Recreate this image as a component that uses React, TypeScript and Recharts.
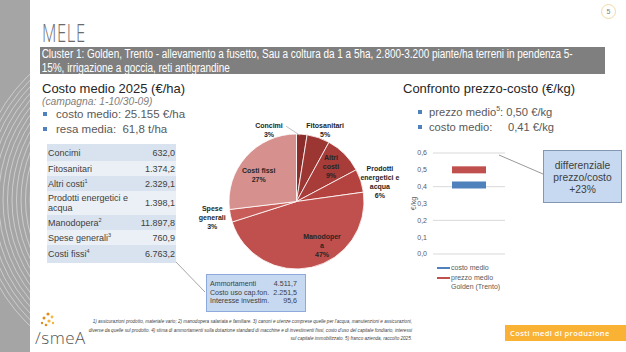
import React from "react";
import { PieChart, Pie, Cell, LineChart, Line, XAxis, YAxis, CartesianGrid } from "recharts";

// voci di costo (€/ha)
const categorie = ["Concimi", "Fitosanitari", "Altri costi", "Prodotti energetici e acqua", "Manodopera", "Spese generali", "Costi fissi"];
const richiami = ["", "", "1", "", "2", "3", "4"];
const costi = [632.0, 1374.2, 2329.1, 1398.1, 11897.8, 760.9, 6763.2];
const etichetteTorta = [["Concimi"], ["Fitosanitari"], ["Altri", "costi"], ["Prodotti", "energetici e", "acqua"], ["Manodoper", "a"], ["Spese", "generali"], ["Costi fissi"]];

// dettaglio costi fissi
const fissiVoci = ["Ammortamenti", "Costo uso cap.fon.", "Interesse investim."];
const fissiValori = [4511.7, 2251.5, 95.6];

// confronto prezzo-costo (€/kg)
const confrontoCat = ["Golden (Trento)"];
const costoMedio = [0.41];
const prezzoMedio = [0.5];
const yTicks = [0, 0.1, 0.2, 0.3, 0.4, 0.5, 0.6];

const coloriTorta = ["#8B2D2B", "#9C3633", "#A73C39", "#B4433F", "#C0504D", "#C85C59", "#D6908E"];
const altezzeRighe = [17, 15, 15, 24, 15, 15, 18];
// posizione etichette: spostamento angolare (gradi) e raggio relativo
const posEtichette = [
  { a: 25.5, r: 1.14, linea: true },
  { a: -3, r: 1.14 },
  { a: 1, r: 0.73 },
  { a: -4.6, r: 1.27 },
  { a: 17, r: 0.76 },
  { a: -1.5, r: 1.27 },
  { a: 7, r: 0.68 },
];

const SANS = '"Liberation Sans", Arial, sans-serif';
const RAD = Math.PI / 180;

const fmt = (v: number, d = 1) => {
  const [i, f] = v.toFixed(d).split(".");
  return i.replace(/\B(?=(\d{3})+(?!\d))/g, ".") + (f ? "," + f : "");
};

const datiTorta = categorie.map((c, i) => ({ name: c, value: costi[i] }));
const datiConfronto = confrontoCat.map((c, i) => ({ cat: c, costo: costoMedio[i], prezzo: prezzoMedio[i] }));

function EtichettaTorta(props: any) {
  const { cx, cy, midAngle, outerRadius, percent, index } = props;
  const p = posEtichette[index];
  const ang = (midAngle + p.a) * RAD;
  const x = cx + outerRadius * p.r * Math.cos(ang);
  const y = cy - outerRadius * p.r * Math.sin(ang);
  const righe = [...etichetteTorta[index], `${Math.round(percent * 100)}%`];
  const lh = 9;
  const y0 = y - ((righe.length - 1) * lh) / 2;
  const bx = cx + outerRadius * Math.cos(midAngle * RAD);
  const by = cy - outerRadius * Math.sin(midAngle * RAD);
  return (
    <g>
      {p.linea && <line x1={x + 17} y1={y0 + 1} x2={bx - 2} y2={by + 1} stroke="#A6A6A6" strokeWidth={0.7} />}
      <text x={x} textAnchor="middle" fontFamily={SANS} fontWeight="bold" fontSize={7} fill="#262626">
        {righe.map((r, i) => (
          <tspan key={i} x={x} y={y0 + i * lh} dy="0.35em">{r}</tspan>
        ))}
      </text>
    </g>
  );
}

function Trattino(colore: string) {
  return (props: any) => {
    const { cx, cy, index } = props;
    if (cx == null || cy == null) return <g key={index} />;
    return <rect key={`${colore}-${index}`} x={cx - 17} y={cy - 3.5} width={34} height={7} fill={colore} />;
  };
}

function EtichettaAsse(props: any) {
  const vb = props.viewBox;
  const x = vb.x + 15;
  const y = vb.y + vb.height / 2;
  return (
    <text x={x} y={y} transform={`rotate(-90 ${x} ${y})`} textAnchor="middle" dominantBaseline="central" fontSize={7} fontFamily={SANS} fill="#595959">
      €/kg
    </text>
  );
}

function Decoro() {
  const archi = [];
  for (let r = 120; r <= 175; r += 4.5) archi.push(r);
  return (
    <svg width={30} height={352} style={{ position: "absolute", left: 0, top: 0 }}>
      <rect x={0} y={0} width={30} height={352} fill="#A5A5A5" />
      {archi.map((r) => (
        <circle key={r} cx={150} cy={200} r={r} fill="none" stroke="#FFFFFF" strokeOpacity={0.55} strokeWidth={0.8} />
      ))}
    </svg>
  );
}

const abs = (left: number, top: number, extra: React.CSSProperties = {}): React.CSSProperties => ({ position: "absolute", left, top, ...extra });

const quadratino: React.CSSProperties = { display: "inline-block", width: 4, height: 4, background: "#4F81BD", verticalAlign: "middle", position: "relative", top: -1 };

export default function App() {
  return (
    <div style={{ position: "absolute", left: 0, top: 0, width: 626, height: 352, background: "#fff", overflow: "hidden", fontFamily: SANS }}>
      <Decoro />

      {/* numero pagina */}
      <div style={abs(601, 4, { width: 15, height: 15, borderRadius: "50%", border: "1px solid #F4D9A6", boxSizing: "border-box", fontSize: 7, color: "#7F7F7F", textAlign: "center", lineHeight: "13px" })}>5</div>

      {/* titolo */}
      <div style={abs(42, 19, { fontFamily: '"Open Sans", sans-serif', fontWeight: 300, fontSize: 26, lineHeight: "26px", color: "#6B6B6B", transform: "scaleX(0.64)", transformOrigin: "left", letterSpacing: 1 })}>MELE</div>

      <div style={abs(40, 47, { width: 565, height: 27, background: "#7F7F7F", overflow: "hidden" })}>
        <div style={{ width: 565 / 0.83, transform: "scaleX(0.83)", transformOrigin: "left top", color: "#fff", fontSize: 12, lineHeight: "14px", padding: "0 2px", whiteSpace: "nowrap" }}>
          Cluster 1: Golden, Trento - allevamento a fusetto, Sau a coltura da 1 a 5ha, 2.800-3.200 piante/ha terreni in pendenza 5-
          <br />
          15%, irrigazione a goccia, reti antigrandine
        </div>
      </div>

      {/* colonna sinistra */}
      <div style={abs(42, 81, { fontSize: 13, color: "#262626" })}>Costo medio 2025 (€/ha)</div>
      <div style={abs(42, 96, { fontSize: 10.3, fontStyle: "italic", color: "#7F7F7F" })}>(campagna: 1-10/30-09)</div>
      {["costo medio: 25.155 €/ha", "resa media:  61,8 t/ha"].map((t, i) => (
        <div key={t} style={abs(43, 108 + i * 15, { fontSize: 11.5, color: "#595959", whiteSpace: "pre" })}>
          <span style={{ ...quadratino, marginRight: 9 }} />
          {t}
        </div>
      ))}

      <div style={abs(47, 144, { width: 129 })}>
        {categorie.map((c, i) => (
          <div key={c} style={{ height: altezzeRighe[i], display: "flex", alignItems: "center", justifyContent: "space-between", background: i % 2 === 0 ? "#D9E3EF" : "#EBF0F7", fontSize: 9, color: "#404040", padding: "0 1px", lineHeight: "10px" }}>
            <span style={{ maxWidth: 86 }}>
              {c}
              {richiami[i] && <sup style={{ fontSize: 5.5, lineHeight: 0 }}>{richiami[i]}</sup>}
            </span>
            <span>{fmt(costi[i])}</span>
          </div>
        ))}
      </div>

      <svg width={626} height={352} style={{ position: "absolute", left: 0, top: 0, pointerEvents: "none" }}>
        <line x1={176} y1={262} x2={205} y2={292} stroke="#7F7F7F" strokeWidth={0.7} />
        <line x1={499} y1={155} x2={543} y2={174} stroke="#7F7F7F" strokeWidth={0.8} />
      </svg>

      <div style={abs(206, 274, { width: 100, height: 38, background: "#C6D9F1", border: "1px solid #8EA9DB", boxSizing: "border-box", padding: "5px 8px 0 3px", fontSize: 7.1, color: "#404040", lineHeight: "8.6px", whiteSpace: "nowrap" })}>
        {fissiVoci.map((v, i) => (
          <div key={v} style={{ display: "flex", justifyContent: "space-between", gap: 3 }}>
            <span>{v}</span>
            <span>{fmt(fissiValori[i])}</span>
          </div>
        ))}
      </div>

      {/* torta */}
      <PieChart width={260} height={190} style={abs(162, 106)}>
        <Pie data={datiTorta} dataKey="value" nameKey="name" cx={129.5} cy={90.5} outerRadius={67.5} startAngle={90} endAngle={-270} stroke="#FFFFFF" strokeWidth={0.8} label={EtichettaTorta} labelLine={false} isAnimationActive={false}>
          {datiTorta.map((d, i) => (
            <Cell key={d.name} fill={coloriTorta[i]} />
          ))}
        </Pie>
      </PieChart>

      {/* colonna destra */}
      <div style={abs(403, 81, { fontSize: 13, color: "#262626" })}>Confronto prezzo-costo (€/kg)</div>
      {[
        ["prezzo medio", "5", ": 0,50 €/kg"],
        ["costo medio:     0,41 €/kg", "", ""],
      ].map((t, i) => (
        <div key={i} style={abs(418, 106 + i * 15, { fontSize: 11.2, color: "#595959", whiteSpace: "pre" })}>
          <span style={{ ...quadratino, marginRight: 7 }} />
          {t[0]}
          {t[1] && <sup style={{ fontSize: 7, lineHeight: 0 }}>{t[1]}</sup>}
          {t[2]}
        </div>
      ))}

      <LineChart width={107} height={117} data={datiConfronto} margin={{ top: 10, right: 0, bottom: 6, left: 0 }} style={abs(398, 143)}>
        <CartesianGrid vertical={false} stroke="#D9D9D9" />
        <XAxis dataKey="cat" hide />
        <YAxis domain={[0, 0.6]} ticks={yTicks} width={35} axisLine={false} tickLine={false} tickSize={4} tick={{ fontSize: 7, fill: "#595959", fontFamily: SANS }} tickFormatter={(v: number) => v.toFixed(1).replace(".", ",")} label={<EtichettaAsse />} />
        <Line dataKey="costo" stroke="none" dot={Trattino("#4F81BD")} activeDot={false} isAnimationActive={false} />
        <Line dataKey="prezzo" stroke="none" dot={Trattino("#C0504D")} activeDot={false} isAnimationActive={false} />
      </LineChart>

      <div style={abs(437, 263, { fontSize: 7, color: "#595959", lineHeight: "9px" })}>
        <div style={{ display: "flex", alignItems: "center" }}>
          <span style={{ width: 13, height: 2, background: "#4F81BD", marginRight: 1 }} />costo medio
        </div>
        <div style={{ display: "flex", alignItems: "flex-start", marginTop: 1 }}>
          <span style={{ width: 13, height: 2, background: "#C0504D", marginRight: 1, marginTop: 4 }} />
          <span>prezzo medio<br />{confrontoCat[0]}</span>
        </div>
      </div>

      <div style={abs(543, 150, { width: 79, height: 53, background: "#C6D9F1", border: "1px solid #8497B0", boxSizing: "border-box", fontSize: 10.3, color: "#404040", textAlign: "center", lineHeight: "12px", paddingTop: 9 })}>
        differenziale<br />prezzo/costo<br />+23%
      </div>

      {/* piè di pagina */}
      <svg width={20} height={16} style={abs(38, 312)}>
        {[[10, 2, 1.6], [14, 5, 1.4], [6, 6, 1.5], [11, 9, 1.6], [4, 11, 1.2], [15, 11, 1.2], [8, 13, 1.3]].map(([x, y, r], i) => (
          <circle key={i} cx={x} cy={y} r={r} fill={i % 2 ? "#F6B53D" : "#E08E1B"} />
        ))}
      </svg>
      <div style={abs(35, 326, { fontFamily: '"Open Sans", sans-serif', fontWeight: 300, fontSize: 17, color: "#555", letterSpacing: 0.5 })}>/smeA</div>

      <div style={abs(40, 318, { width: 372, textAlign: "right", fontStyle: "italic", fontSize: 4.6, lineHeight: "8.5px", color: "#404040", whiteSpace: "nowrap" })}>
        1) assicurazioni prodotto, materiale vario; 2) manodopera salariata e familiare. 3)  canoni e utenze comprese quelle per l'acqua, manutenzioni e assicurazioni,
        <br />
        diverse da quelle sul prodotto. 4) stima di ammortamenti sulla dotazione standard di macchine e di investimenti fissi, costo d'uso del capitale fondiario, interessi
        <br />
        sul capitale immobilizzato. 5) franco azienda, raccolto 2025.
      </div>

      <div style={abs(505, 325, { width: 121, height: 16, background: "#F9B233", color: "#fff", fontFamily: '"Open Sans", sans-serif', fontWeight: 600, fontSize: 7.5, lineHeight: "16px", paddingLeft: 5, letterSpacing: 0.4, boxSizing: "border-box" })}>
        Costi medi di produzione
      </div>
    </div>
  );
}
